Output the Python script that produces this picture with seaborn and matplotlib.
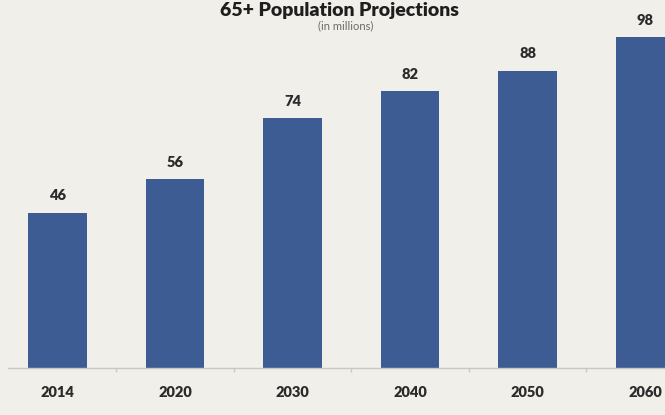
import matplotlib
matplotlib.use("Agg")
import matplotlib.pyplot as plt
import seaborn as sns
import pandas as pd

years = ["2014", "2020", "2030", "2040", "2050", "2060"]
population = [46, 56, 74, 82, 88, 98]

df = pd.DataFrame({"year": years, "population": population})

sns.set_theme(style="white")
plt.rcParams["font.family"] = ["Lato", "DejaVu Sans"]

bg = "#f0efe9"
bar_color = "#3d5c94"
text_color = "#2b2b2b"

fig = plt.figure(figsize=(6.65, 4.15), dpi=100, facecolor=bg)
ax = fig.add_axes([0, 47 / 415, 1, 368 / 415])
ax.set_facecolor(bg)

sns.barplot(data=df, x="year", y="population", color=bar_color,
            width=0.5, saturation=1, linewidth=0, ax=ax)

ax.set_xlim(-0.49, 5.17)
ax.set_ylim(0, 368 / 3.38)

for i, v in enumerate(population):
    ax.text(i, v + 3.0, str(v), ha="center", va="bottom",
            fontsize=10.5, fontweight="heavy", color=text_color)

for s in ["top", "right", "left"]:
    ax.spines[s].set_visible(False)
ax.spines["bottom"].set_color("#c9c8c2")
ax.spines["bottom"].set_linewidth(1.0)
ax.spines["bottom"].set_bounds(-0.42, 5.17)

ax.set_yticks([])
ax.set_xlabel("")
ax.set_ylabel("")
ax.tick_params(axis="x", length=0, pad=13, labelsize=10.5, labelcolor=text_color)
for lbl in ax.get_xticklabels():
    lbl.set_fontweight("heavy")
ax.set_xticks([i + 0.5 for i in range(5)], minor=True)
ax.tick_params(axis="x", which="minor", bottom=True, length=3,
               color="#c9c8c2", direction="out")

fig.text(0.51, 1.0 - 16 / 415, "65+ Population Projections", ha="center",
         va="baseline", fontsize=14, fontweight="heavy", color="#1e1e1e")
fig.text(0.52, 1.0 - 29 / 415, "(in millions)", ha="center", va="baseline",
         fontsize=8, color="#6a6a6a")

fig.savefig("out.png", dpi=100, facecolor=bg)
